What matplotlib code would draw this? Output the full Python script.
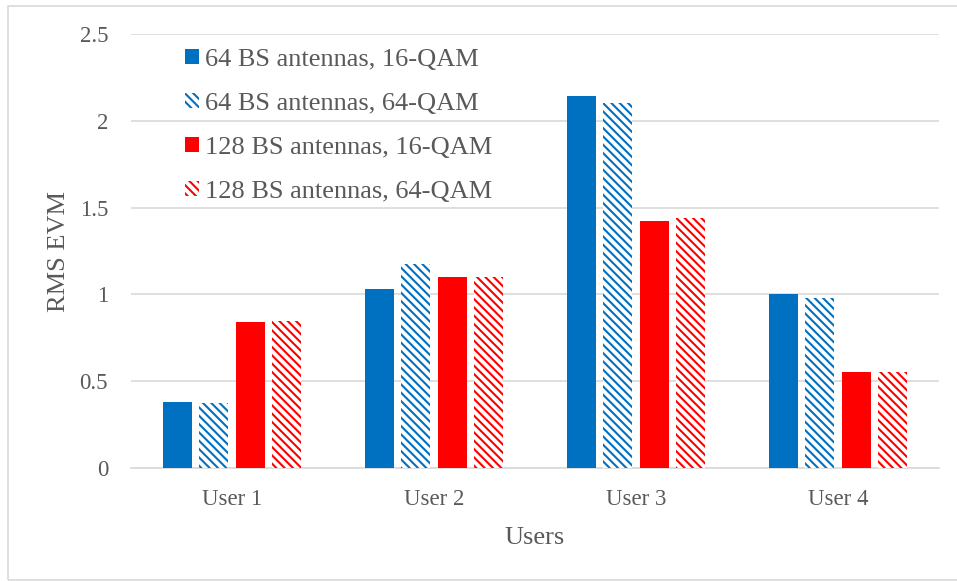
import numpy as np
import matplotlib.pyplot as plt
from matplotlib.patches import Rectangle

plt.rcParams['font.family'] = ['Liberation Serif', 'DejaVu Serif']
plt.rcParams['hatch.linewidth'] = 1.5

users = ["User 1", "User 2", "User 3", "User 4"]
series = ["64 BS antennas, 16-QAM", "64 BS antennas, 64-QAM",
          "128 BS antennas, 16-QAM", "128 BS antennas, 64-QAM"]
evm_64_16 = [0.38, 1.03, 2.145, 1.00]
evm_64_64 = [0.375, 1.175, 2.10, 0.98]
evm_128_16 = [0.84, 1.10, 1.425, 0.555]
evm_128_64 = [0.845, 1.10, 1.44, 0.555]

values = [evm_64_16, evm_64_64, evm_128_16, evm_128_64]
colors = ["#0070C0", "#0070C0", "#FF0000", "#FF0000"]
hatched = [False, True, False, True]
grey = "#595959"

fig = plt.figure(figsize=(9.57, 5.81), dpi=100)
ax = fig.add_axes([131/957, 113/581, 808/957, 434/581])

x = np.arange(len(users))
width = 0.144
pitch = 0.181
for i, (vals, c, h, name) in enumerate(zip(values, colors, hatched, series)):
    pos = x + (i - 1.5) * pitch
    if h:
        ax.bar(pos, vals, width, facecolor="white", edgecolor=c,
               hatch="\\\\\\\\", linewidth=0, label=name, zorder=3)
    else:
        ax.bar(pos, vals, width, color=c, linewidth=0, label=name, zorder=3)

ax.set_xlim(-0.5, 3.5)
ax.set_ylim(0, 2.5)
ax.set_yticks([0, 0.5, 1, 1.5, 2, 2.5])
ax.set_yticklabels(["0", "0.5", "1", "1.5", "2", "2.5"])
ax.set_xticks(x)
ax.set_xticklabels(users)
ax.tick_params(axis="both", length=0, labelsize=16.5, colors=grey)
ax.tick_params(axis="y", pad=16.5)
ax.tick_params(axis="x", pad=15)
ax.grid(axis="y", color="#D9D9D9", linewidth=1.2, zorder=0)
ax.set_axisbelow(True)
for s in ["left", "right", "top"]:
    ax.spines[s].set_visible(False)
ax.spines["bottom"].set_color("#D9D9D9")
ax.spines["bottom"].set_linewidth(1.2)

ax.set_xlabel("Users", fontsize=19, color=grey, labelpad=12.5)
ax.set_ylabel("RMS EVM", fontsize=19, color=grey, labelpad=7)

leg = ax.legend(loc="upper left", bbox_to_anchor=(185/957, 1 - 49/581),
                bbox_transform=fig.transFigure, frameon=False, fontsize=19,
                handlelength=0.52, handleheight=0.52, handletextpad=0.25,
                labelspacing=0.83, borderpad=0, borderaxespad=0)
for t in leg.get_texts():
    t.set_color(grey)

# chart area outline
fig.patches.append(Rectangle((8/957, 1/581), 1.0, 574/581, transform=fig.transFigure,
                             fill=False, edgecolor="#D9D9D9", linewidth=1.2))

fig.savefig("out.png", dpi=100)
